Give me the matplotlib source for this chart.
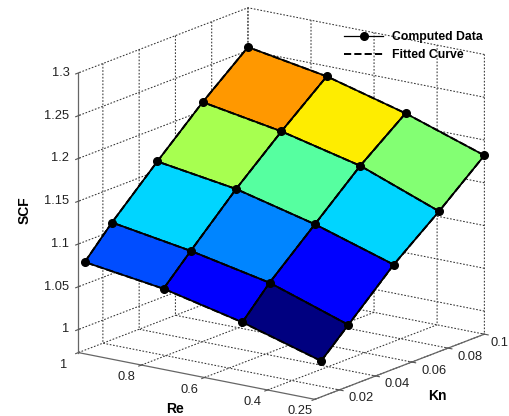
import numpy as np
import matplotlib
matplotlib.use("Agg")
import matplotlib.pyplot as plt
from matplotlib import cm
from matplotlib.colors import Normalize
from mpl_toolkits.mplot3d import proj3d

# grid of the computed points
re_vals = [0.25, 0.5, 0.75, 1.0]
kn_vals = [0.01, 0.025, 0.05, 0.075, 0.1]
# scf[i][j] -> Re = re_vals[i], Kn = kn_vals[j]
scf = [
    [1.015, 1.045, 1.095, 1.137, 1.182],
    [1.042, 1.076, 1.124, 1.172, 1.213],
    [1.063, 1.095, 1.147, 1.194, 1.238],
    [1.076, 1.110, 1.161, 1.210, 1.254],
]

re_ticks = [0.25, 0.4, 0.6, 0.8, 1]
re_labels = ['0.25', '0.4', '0.6', '0.8', '1']
kn_ticks = [0.02, 0.04, 0.06, 0.08, 0.1]
kn_labels = ['0.02', '0.04', '0.06', '0.08', '0.1']
scf_ticks = [1, 1.05, 1.1, 1.15, 1.2, 1.25, 1.3]
scf_labels = ['1', '1.05', '1.1', '1.15', '1.2', '1.25', '1.3']

re_lim = (1, 0.25)
kn_lim = (0.0065, 0.1)
scf_lim = (0.973, 1.3)

plt.rcParams['font.family'] = ['Liberation Sans', 'DejaVu Sans']
plt.rcParams['grid.color'] = '#333333'
plt.rcParams['grid.linewidth'] = 0.75

W, H = 510, 416
fig = plt.figure(figsize=(W / 100, H / 100), dpi=100)
ax = fig.add_axes([0.1, 0.1, 0.8, 0.8], projection='3d', proj_type='ortho')
ax.computed_zorder = False
ax.patch.set_alpha(0)

RE, KN = np.meshgrid(re_vals, kn_vals, indexing='ij')
Z = np.array(scf)
fc = cm.jet(Normalize(Z.min(), Z.max())(Z))

ax.plot_surface(RE, KN, Z, facecolors=fc, shade=False, edgecolor='k',
                linewidth=1.2, rstride=1, cstride=1, zorder=1)

# fitted curve: dashed mesh
for i in range(len(re_vals)):
    ax.plot(RE[i], KN[i], Z[i], 'k--', lw=1.4, zorder=3,
            label='Fitted Curve' if i == 0 else None)
for j in range(len(kn_vals)):
    ax.plot(RE[:, j], KN[:, j], Z[:, j], 'k--', lw=1.4, zorder=3)

# computed data: points joined by solid lines
for i in range(len(re_vals)):
    ax.plot(RE[i], KN[i], Z[i], 'k-', lw=0.9, marker='o', ms=5.5, zorder=4,
            label='Computed Data' if i == 0 else None)

# ticks stay on the axes, their labels are written by hand further down
ax.set_xticks(re_ticks)
ax.set_xticklabels([''] * len(re_ticks))
ax.set_yticks(kn_ticks)
ax.set_yticklabels([''] * len(kn_ticks))
ax.set_zticks(scf_ticks)
ax.set_zticklabels([''] * len(scf_ticks))
ax.set_xlim(*re_lim)
ax.set_ylim(*kn_lim)
ax.set_zlim(*scf_lim)
ax.tick_params(colors='#555555')

for a in (ax.xaxis, ax.yaxis, ax.zaxis):
    a.set_pane_color((1, 1, 1, 0))
    a.pane.set_edgecolor('none')
    a.line.set_color('#666666')
    a.line.set_linewidth(0.9)
    a._axinfo['grid']['linestyle'] = (0, (1.6, 1.6))

ax.set_box_aspect((1, 1, 1))
ax.view_init(elev=16, azim=-54.35)

# z axis belongs on the left corner
ax.zaxis.set_ticks_position('lower')
fig.canvas.draw()
zx = ax.transData.transform(np.column_stack(ax.zaxis.line.get_data()))[:, 0].mean()
if zx > W / 2:
    ax.zaxis.set_ticks_position('upper')


def to_px(x, y, z):
    xs, ys, _ = proj3d.proj_transform(x, y, z, ax.get_proj())
    return ax.transData.transform((xs, ys))


# place the box so its corners land where the reference has them
targets = [
    ((1, kn_lim[0], scf_lim[0]), (78, 353)),
    ((0.25, kn_lim[0], scf_lim[0]), (315, 399)),
    ((0.25, 0.1, scf_lim[0]), (485, 333)),
    ((1, kn_lim[0], 1.3), (78, 74)),
]
for _ in range(3):
    fig.canvas.draw()
    rows, rhs = [], []
    for p, (px, py) in targets:
        c = to_px(*p)
        rows.append([1, 0, c[0]]); rhs.append(px)
        rows.append([0, 1, c[1]]); rhs.append(H - py)
    ax_, ay_, k = np.linalg.lstsq(np.array(rows), np.array(rhs), rcond=None)[0]
    bb = ax.get_position().transformed(fig.transFigure)
    cx, cy = (bb.x0 + bb.x1) / 2, (bb.y0 + bb.y1) / 2
    side = min(bb.width, bb.height) * k
    ncx, ncy = ax_ + k * cx, ay_ + k * cy
    ax.set_position([(ncx - side / 2) / W, (ncy - side / 2) / H, side / W, side / H])
fig.canvas.draw()

tick_font = dict(fontsize=9.3, color='#222222')
for v, s in zip(re_ticks, re_labels):
    x, y = to_px(v, kn_lim[0], scf_lim[0])
    fig.text((x - 15) / W, (y - 12) / H, s, ha='center', va='center', **tick_font)
for v, s in zip(kn_ticks, kn_labels):
    x, y = to_px(re_lim[1], v, scf_lim[0])
    # keep the last label inside the picture
    fig.text(min(x + 22, W - 10) / W, (y - 8.5) / H, s, ha='center', va='center',
             **tick_font)
for v, s in zip(scf_ticks, scf_labels):
    x, y = to_px(re_lim[0], kn_lim[0], v)
    fig.text((x - 9) / W, y / H, s, ha='right', va='center', **tick_font)

fig.text(25 / W, 1 - 210 / H, 'SCF', rotation=90, fontsize=10, fontweight='bold',
         ha='center', va='center')
fig.text(175 / W, 1 - 409 / H, 'Re', fontsize=10, fontweight='bold',
         ha='center', va='center')
fig.text(437 / W, 1 - 396 / H, 'Kn', fontsize=10, fontweight='bold',
         ha='center', va='center')

h, l = ax.get_legend_handles_labels()
order = [l.index('Computed Data'), l.index('Fitted Curve')]
fig.legend([h[i] for i in order], [l[i] for i in order], loc='upper left',
           bbox_to_anchor=(333 / W, 1 - 20 / H), frameon=False,
           prop={'size': 8.8, 'weight': 'bold'}, handlelength=3.2,
           handletextpad=0.75, labelspacing=0.5, numpoints=1)

fig.savefig('out.png', dpi=100)
